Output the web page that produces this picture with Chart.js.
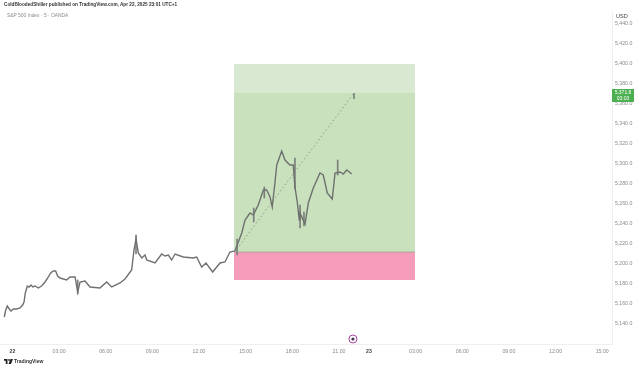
<!DOCTYPE html>
<html>
<head>
<meta charset="utf-8">
<script src="https://cdn.jsdelivr.net/npm/chart.js@4/dist/chart.umd.min.js"></script>
<style>
  html, body { margin: 0; padding: 0; background: #fff; overflow: hidden; }
  #wrap { position: relative; width: 640px; height: 369px; font-family: "Liberation Sans", sans-serif; }
  #chart { position: absolute; left: 0; top: 0; }
  .txt { position: absolute; white-space: nowrap; line-height: 1; }
  #head { left: 4px; top: 3px; font-size: 4.7px; font-weight: bold; color: #333; }
  #sym { left: 7px; top: 14px; font-size: 4.9px; color: #8a8a8a; }
  #usd { left: 616px; top: 14px; font-size: 5.6px; color: #444; }
  #brand { left: 14px; top: 359px; font-size: 5px; font-weight: bold; color: #333; }
  #logo { position: absolute; left: 4px; top: 359px; }
</style>
</head>
<body>
<div id="wrap">
  <canvas id="chart" width="640" height="369"></canvas>
  <div class="txt" id="head">ColdBloodedShiller published on TradingView.com, Apr 22, 2025 23:01 UTC+1</div>
  <div class="txt" id="sym">S&amp;P 500 Index · 5 · OANDA</div>
  <div class="txt" id="usd">USD</div>
  <svg id="logo" width="9" height="5" viewBox="0 0 36 20"><path d="M0 0h14v20H7V7H0zM20 0a3.5 3.5 0 1 1 0 7a3.5 3.5 0 0 1 0-7zM26 0h10l-8 20H18z" fill="#222"/></svg>
  <div class="txt" id="brand">TradingView</div>
</div>
<script>
// horas desde 00:00 do dia 22 (a sessao encurta antes do 23)
const horas = [-0.52,-0.43,-0.33,-0.20,-0.09,0.06,0.28,0.49,0.66,0.75,0.83,0.96,1.07,1.20,1.31,1.45,1.67,1.88,2.10,2.27,2.46,2.63,2.78,2.91,3.06,3.49,3.70,4.03,4.20,4.35,4.67,4.99,5.63,6.06,6.39,6.92,7.24,7.67,7.82,7.95,8.10,8.32,8.53,8.64,9.17,9.60,9.81,10.03,10.24,10.46,10.99,11.63,11.85,12.17,12.45,12.88,13.35,13.67,13.99,14.31,14.75,14.96,15.28,15.49,15.81,16.14,16.35,16.57,16.71,16.89,17.00,17.32,17.53,17.85,18.06,18.17,18.32,18.45,18.49,18.82,19.03,19.35,19.78,19.99,20.25,20.57,20.75,21.07,21.28,21.50,21.82];
const precos = [5147,5154,5158,5155,5153,5155,5155,5156,5159,5162,5171,5178,5177,5179,5177,5178,5176,5178,5182,5186,5191,5193,5193,5188,5186,5184,5187,5187,5172,5182,5183,5177,5176,5182,5177,5181,5185,5194,5214,5225,5211,5206,5209,5204,5201,5210,5208,5209,5204,5210,5207,5206,5207,5197,5201,5192,5201,5202,5212,5213,5231,5244,5251,5249,5259,5274,5274,5267,5257,5282,5299,5313,5304,5299,5299,5277,5262,5244,5251,5240,5261,5276,5291,5289,5271,5265,5291,5292,5290,5294,5290];

// pavios mais visiveis
const pavioHoras = [4.20,7.95,14.45,15.52,16.20,18.17,18.50,18.75,20.92];
const pavioMin = [5170,5210,5209,5242,5266,5275,5236,5238,5289];
const pavioMax = [5184,5229,5225,5256,5277,5306,5259,5252,5304];

// posicao long
const zonaInicio = 14.25;
const zonaFim = 25.89;
const topoZona = 5400;
const alvo = 5371;
const entrada = 5212;
const stop = 5184;
const setaHoras = [14.44, 21.97];
const setaPrecos = [5215, 5371];
const precoAtual = '5,371.8';
const contagem = '03:03';

const tickHoras = [0,3,6,9,12,15,18,21,22.93,25.93,28.93,31.93,34.93,37.93];
const tickTextos = ['22','03:00','06:00','09:00','12:00','15:00','18:00','21:00','23','03:00','06:00','09:00','12:00','15:00'];
const tickPrecos = [5140,5160,5180,5200,5220,5240,5260,5280,5300,5320,5340,5360,5380,5400,5420,5440];

const marcaHora = [21.9];
const marcaPreco = [5125];

function zona(de, ate, cor) {
  return {
    type: 'line',
    data: [{ x: zonaInicio, y: de }, { x: zonaFim, y: de }],
    borderWidth: 0,
    pointRadius: 0,
    backgroundColor: cor,
    fill: { value: ate },
    order: 10
  };
}

function fmtPreco(v) {
  return v.toLocaleString('en-US', { minimumFractionDigits: 1, maximumFractionDigits: 1 });
}

const etiquetaPreco = {
  id: 'etiquetaPreco',
  afterDraw(chart) {
    const ctx = chart.ctx;
    const y = chart.scales.y.getPixelForValue(alvo);
    const x = chart.chartArea.right;
    ctx.save();
    ctx.fillStyle = '#4caf50';
    ctx.fillRect(x, y - 4, 22, 13);
    ctx.fillStyle = '#fff';
    ctx.font = '5px "Liberation Sans"';
    ctx.textAlign = 'center';
    ctx.textBaseline = 'middle';
    ctx.fillText(precoAtual, x + 11, y);
    ctx.fillText(contagem, x + 11, y + 6);
    ctx.restore();
  }
};

new Chart(document.getElementById('chart'), {
  type: 'line',
  data: {
    datasets: [
      zona(topoZona, alvo, '#d9e9d1'),
      zona(alvo, entrada, '#c9e1bd'),
      zona(entrada, stop, '#f49cba'),
      {
        type: 'line',
        data: [{ x: zonaInicio, y: entrada }, { x: zonaFim, y: entrada }],
        borderColor: '#8f9a86',
        borderWidth: 0.6,
        pointRadius: 0,
        order: 9
      },
      {
        type: 'line',
        data: setaHoras.map((h, i) => ({ x: h, y: setaPrecos[i] })),
        borderColor: '#8a9a85',
        borderWidth: 1,
        borderDash: [1.5, 2.5],
        pointRadius: 0,
        order: 5
      },
      {
        type: 'line',
        data: [{ x: setaHoras[1], y: setaPrecos[1] }, { x: setaHoras[1], y: setaPrecos[1] - 6 }],
        borderColor: '#7d8a78',
        borderWidth: 1,
        pointRadius: 0,
        order: 5
      },
      {
        type: 'bar',
        data: pavioHoras.map((h, i) => ({ x: h, y: [pavioMin[i], pavioMax[i]] })),
        backgroundColor: '#7c7f7c',
        barThickness: 1,
        order: 3
      },
      {
        type: 'line',
        data: horas.map((h, i) => ({ x: h, y: precos[i] })),
        borderColor: '#6e716e',
        borderWidth: 1.4,
        pointRadius: 0,
        tension: 0,
        order: 2
      },
      {
        type: 'line',
        data: marcaHora.map((h, i) => ({ x: h, y: marcaPreco[i] })),
        showLine: false,
        pointRadius: 1.6,
        pointBackgroundColor: '#4a3550',
        pointBorderWidth: 0,
        order: 0
      },
      {
        type: 'line',
        data: marcaHora.map((h, i) => ({ x: h, y: marcaPreco[i] })),
        showLine: false,
        pointRadius: 4,
        pointBackgroundColor: '#fff',
        pointBorderColor: '#a02c9c',
        pointBorderWidth: 0.9,
        order: 1
      }
    ]
  },
  options: {
    responsive: false,
    animation: false,
    layout: { autoPadding: false, padding: { top: 12 } },
    plugins: { legend: { display: false }, tooltip: { enabled: false } },
    scales: {
      x: {
        type: 'linear',
        offset: false,
        min: -0.797,
        max: 38.56,
        grid: { display: false, drawTicks: false, offset: false },
        border: { color: '#efefef' },
        afterFit(s) { s.height = 25; },
        afterBuildTicks(s) { s.ticks = tickHoras.map(v => ({ value: v })); },
        ticks: {
          autoSkip: false,
          maxRotation: 0,
          padding: 4,
          color: (c) => c.index === 0 || c.index === 8 ? '#444' : '#8a8a8a',
          font: (c) => ({ family: 'Liberation Sans', size: 5.2, weight: (c.index === 0 || c.index === 8) ? 'bold' : 'normal' }),
          callback: (v, i) => tickTextos[i]
        }
      },
      y: {
        position: 'right',
        min: 5120,
        max: 5452,
        grid: { display: false, drawTicks: false },
        border: { color: '#efefef' },
        afterFit(s) { s.width = 28; },
        afterBuildTicks(s) { s.ticks = tickPrecos.map(v => ({ value: v })); },
        ticks: {
          autoSkip: false,
          padding: 3,
          color: '#8a8a8a',
          font: { family: 'Liberation Sans', size: 5.2 },
          callback: (v) => fmtPreco(v)
        }
      }
    }
  },
  plugins: [etiquetaPreco]
});
</script>
</body>
</html>
